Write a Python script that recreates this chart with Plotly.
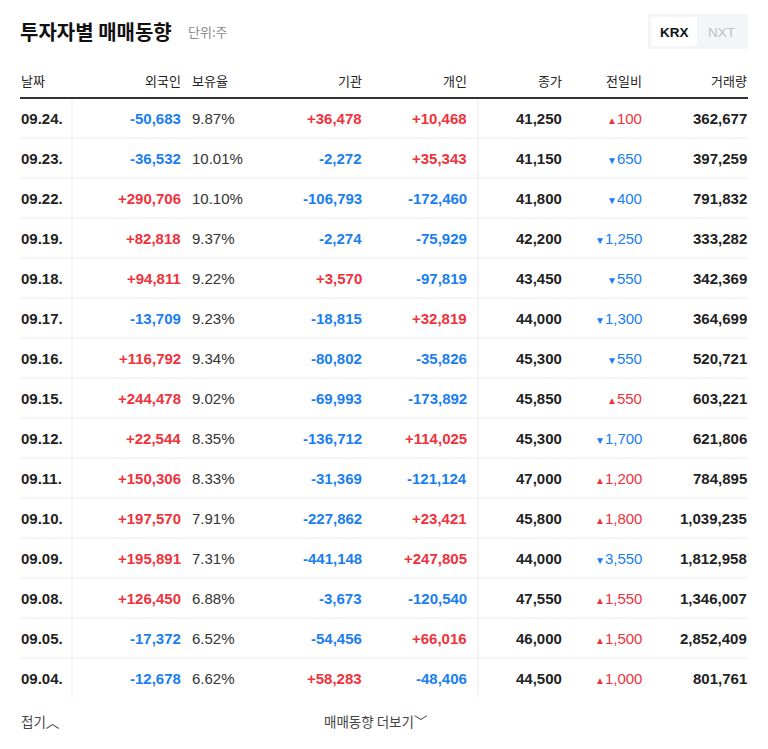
import plotly.graph_objects as go

dates = ["09.24.", "09.23.", "09.22.", "09.19.", "09.18.", "09.17.", "09.16.", "09.15.",
         "09.12.", "09.11.", "09.10.", "09.09.", "09.08.", "09.05.", "09.04."]
foreign = [-50683, -36532, 290706, 82818, 94811, -13709, 116792, 244478,
           22544, 150306, 197570, 195891, 126450, -17372, -12678]
holding = [9.87, 10.01, 10.10, 9.37, 9.22, 9.23, 9.34, 9.02, 8.35, 8.33, 7.91, 7.31, 6.88, 6.52, 6.62]
institution = [36478, -2272, -106793, -2274, 3570, -18815, -80802, -69993,
               -136712, -31369, -227862, -441148, -3673, -54456, 58283]
individual = [10468, 35343, -172460, -75929, -97819, 32819, -35826, -173892,
              114025, -121124, 23421, 247805, -120540, 66016, -48406]
close = [41250, 41150, 41800, 42200, 43450, 44000, 45300, 45850,
         45300, 47000, 45800, 44000, 47550, 46000, 44500]
change = [100, -650, -400, -1250, -550, -1300, -550, 550,
          -1700, 1200, 1800, -3550, 1550, 1500, 1000]
volume = [362677, 397259, 791832, 333282, 342369, 364699, 520721, 603221,
          621806, 784895, 1039235, 1812958, 1346007, 2852409, 801761]

headers = ["날짜", "외국인", "보유율", "기관", "개인", "종가", "전일비", "거래량"]

RED = "#f0323c"
BLUE = "#1a7ef2"
DARK = "#222222"
FONT = "Arial, Liberation Sans, Noto Sans CJK KR"
KFONT = "Noto Sans CJK KR"

W, H = 768, 749
PAD = 8  # page body margin
fig = go.Figure()
ann = []
shapes = []


def add(x, y, text, anchor="right", color=DARK, size=15, bold=True, family=FONT):
    if bold:
        text = "<b>" + text + "</b>"
    ann.append(dict(x=x, y=y, text=text, xanchor=anchor, yanchor="middle", showarrow=False,
                    font=dict(color=color, size=size, family=family)))


def signed(v):
    s = f"{abs(v):,}"
    return ("+" + s, RED) if v > 0 else ("-" + s, BLUE)


# title
add(18, 31, "투자자별 매매동향", "left", "#111111", 20, True, KFONT)
add(186, 31, "단위:주", "left", "#8a8a8a", 13, False, KFONT)

# KRX / NXT toggle
shapes.append(dict(type="rect", x0=648, x1=748, y0=14, y1=49, fillcolor="#f4f5f7",
                   line=dict(width=0)))
shapes.append(dict(type="rect", x0=651, x1=697, y0=17, y1=46, fillcolor="white",
                   line=dict(width=0)))
add(674, 32, "KRX", "center", "#111111", 13.5, True)
add(721, 32, "NXT", "center", "#c0c0c0", 13.5, False)

# header
hx = [(19, "left"), (183, "right"), (190, "left"), (364, "right"), (469, "right"),
      (564, "right"), (644, "right"), (749, "right")]
for (x, a), h in zip(hx, headers):
    add(x, 80, h, a, "#222222", 13, False, KFONT)
shapes.append(dict(type="line", x0=20, x1=748, y0=98, y1=98, line=dict(color="#333", width=2)))

for i in range(len(dates)):
    y = 118 + 40 * i
    add(19, y, dates[i], "left")
    t, c = signed(foreign[i]); add(183, y, t, color=c)
    add(190, y, f"{holding[i]:.2f}%", "left", "#333333", 15, False)
    t, c = signed(institution[i]); add(364, y, t, color=c)
    t, c = signed(individual[i]); add(469, y, t, color=c)
    add(564, y, f"{close[i]:,}", "right")
    ch = change[i]
    arrow = "▲" if ch > 0 else "▼"
    col = RED if ch > 0 else BLUE
    add(644, y, f"<span style='font-size:10px'>{arrow}</span>{abs(ch):,}", "right", col, 15, False)
    add(749, y, f"{volume[i]:,}", "right")
    if i < len(dates) - 1:
        shapes.append(dict(type="line", x0=20, x1=748, y0=y + 20, y1=y + 20,
                           line=dict(color="#ececec", width=1)))

for x in (72, 478):
    shapes.append(dict(type="line", x0=x, x1=x, y0=99, y1=698, line=dict(color="#ececec", width=1)))

# footer
add(19, 721, "접기︿", "left", "#444444", 13.5, False, KFONT)
add(322, 721, "매매동향 더보기﹀", "left", "#444444", 13.5, False, KFONT)

fig.update_layout(
    width=W - 2 * PAD, height=H - 2 * PAD, margin=dict(l=0, r=0, t=0, b=0),
    paper_bgcolor="white", plot_bgcolor="white",
    xaxis=dict(range=[PAD, W - PAD], visible=False, fixedrange=True),
    yaxis=dict(range=[H - PAD, PAD], visible=False, fixedrange=True),
    annotations=ann, shapes=shapes, showlegend=False,
)
fig.write_html("out.html")
